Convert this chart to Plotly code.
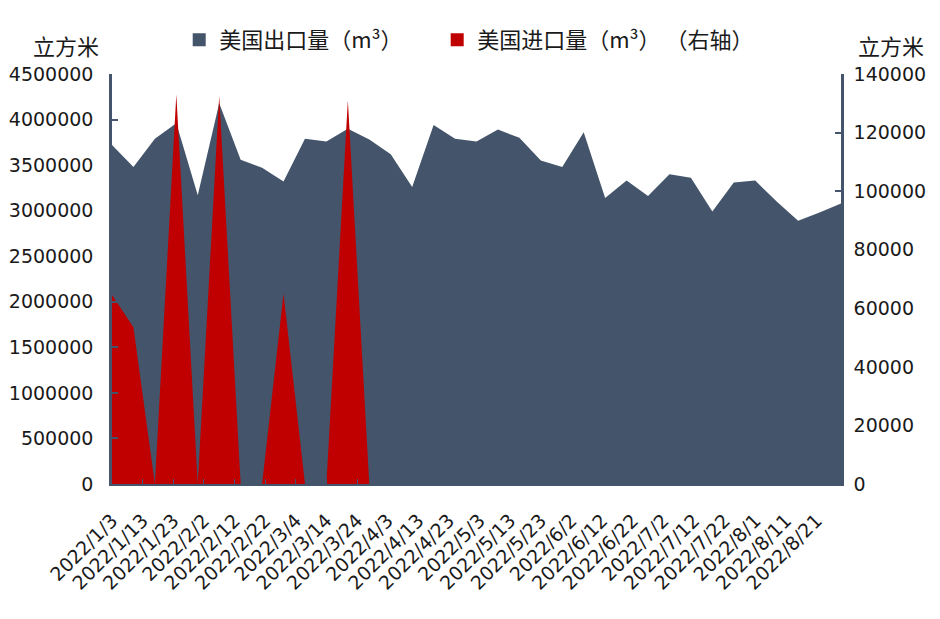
import plotly.graph_objects as go

dates = ["2022-01-03", "2022-01-10", "2022-01-17", "2022-01-24", "2022-01-31",
         "2022-02-07", "2022-02-14", "2022-02-21", "2022-02-28", "2022-03-07",
         "2022-03-14", "2022-03-21", "2022-03-28", "2022-04-04", "2022-04-11",
         "2022-04-18", "2022-04-25", "2022-05-02", "2022-05-09", "2022-05-16",
         "2022-05-23", "2022-05-30", "2022-06-06", "2022-06-13", "2022-06-20",
         "2022-06-27", "2022-07-04", "2022-07-11", "2022-07-18", "2022-07-25",
         "2022-08-01", "2022-08-08", "2022-08-15", "2022-08-22", "2022-08-29"]

us_export = [3720000, 3480000, 3790000, 3960000, 3170000, 4180000, 3560000, 3470000,
             3320000, 3790000, 3760000, 3900000, 3780000, 3620000, 3260000, 3940000,
             3790000, 3760000, 3890000, 3800000, 3550000, 3480000, 3860000, 3140000,
             3330000, 3160000, 3400000, 3360000, 2990000, 3310000, 3330000, 3100000,
             2890000, 2980000, 3080000]

us_import = [64500, 53500, 0, 133000, 0, 132500, 0, 0, 65000, 0, 0, 131000, 0] + [None] * 22

name_export = "美国出口量（m³）"
name_import = "美国进口量（m³） （右轴）"

c_export = "#44546A"
c_import = "#C00000"
axis_c = "#44546A"
num_font = dict(family="DejaVu Sans, Noto Sans CJK SC", size=19, color="#1a1a1a")
cjk_font = dict(family="Noto Sans CJK SC, DejaVu Sans", size=22, color="#1a1a1a")

fig = go.Figure()
fig.add_trace(go.Scatter(x=dates, y=us_export, mode="lines", fill="tozeroy",
                         line=dict(width=0, color=c_export), fillcolor=c_export,
                         showlegend=False, name=name_export))
fig.add_trace(go.Scatter(x=dates, y=us_import, mode="lines", fill="tozeroy",
                         line=dict(width=0, color=c_import), fillcolor=c_import,
                         showlegend=False, name=name_import, yaxis="y2"))
# legend entries
fig.add_trace(go.Scatter(x=[None], y=[None], mode="markers", name=name_export + "      ",
                         marker=dict(symbol="square", size=13, color=c_export)))
fig.add_trace(go.Scatter(x=[None], y=[None], mode="markers", name=name_import,
                         marker=dict(symbol="square", size=13, color=c_import)))

fig.update_layout(
    width=940, height=619,
    margin=dict(l=104, r=107, t=66, b=143, autoexpand=False),
    paper_bgcolor="white", plot_bgcolor="white",
    showlegend=True,
    legend=dict(orientation="h", x=0.49, xanchor="center", y=1.083, yanchor="middle",
                font=cjk_font, itemwidth=30, tracegroupgap=0,
                bgcolor="rgba(0,0,0,0)"),
    xaxis=dict(type="date", range=[dates[0], dates[-1]], automargin=False,
               tickmode="linear", tick0="2022-01-03", dtick=10 * 86400000,
               tickformat="%Y/%-m/%-d", tickangle=-45, tickfont=num_font,
               ticklabelstandoff=16,
               ticks="inside", ticklen=5, tickcolor=axis_c,
               showline=True, linecolor=axis_c, linewidth=2,
               showgrid=False, zeroline=False),
    yaxis=dict(range=[0, 4500000], dtick=500000, tickformat="d", tickfont=num_font,
               automargin=False, ticklabelstandoff=12,
               ticks="inside", ticklen=6, tickcolor=axis_c, tickwidth=2,
               showline=True, linecolor=axis_c, linewidth=2.5,
               showgrid=False, zeroline=False),
    yaxis2=dict(range=[0, 140000], dtick=20000, tickformat="d", tickfont=num_font,
                overlaying="y", side="right", automargin=False, ticklabelstandoff=6,
                ticks="inside", ticklen=6, tickcolor=axis_c, tickwidth=2,
                showline=True, linecolor=axis_c, linewidth=2.5,
                showgrid=False, zeroline=False),
    annotations=[
        dict(text="立方米", xref="paper", yref="paper", x=-0.063, y=1.071,
             xanchor="center", yanchor="middle", showarrow=False, font=cjk_font),
        dict(text="立方米", xref="paper", yref="paper", x=1.068, y=1.071,
             xanchor="center", yanchor="middle", showarrow=False, font=cjk_font),
    ],
)

fig.write_html("out.html")
